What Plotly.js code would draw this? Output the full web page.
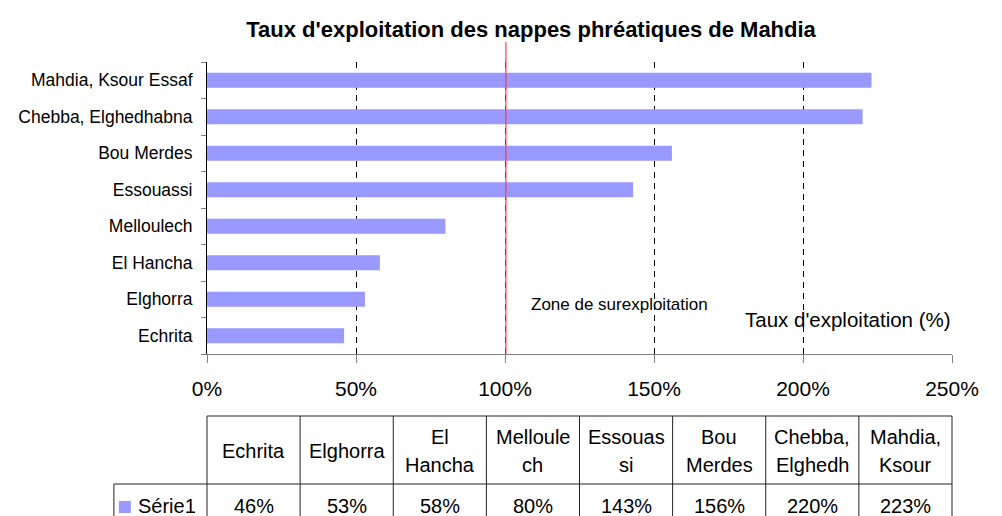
<!DOCTYPE html>
<html>
<head>
<meta charset="utf-8">
<script src="https://cdn.plot.ly/plotly-3.0.1.min.js"></script>
<style>
html,body{margin:0;padding:0;background:#fff;}
#chart{width:1002px;height:516px;}
</style>
</head>
<body>
<div id="chart"></div>
<script>
// ---- Data ----
var categories = ["Echrita", "Elghorra", "El Hancha", "Melloulech", "Essouassi", "Bou Merdes", "Chebba, Elghedhabna", "Mahdia, Ksour Essaf"];
var values = [46, 53, 58, 80, 143, 156, 220, 223];
var tableHeaders = [["Echrita"], ["Elghorra"], ["El", "Hancha"], ["Melloule", "ch"], ["Essouas", "si"], ["Bou", "Merdes"], ["Chebba,", "Elghedh"], ["Mahdia,", "Ksour"]];
var seriesName = "Série1";
var tickVals = [0, 50, 100, 150, 200, 250];
var tickText = ["0%", "50%", "100%", "150%", "200%", "250%"];
var thresholdValue = 100;

// ---- Layout helpers ----
var FONT = "Liberation Sans, Arial, sans-serif";
var barColor = "#9999FF";
var W = 1002, Hh = 516;
var mL = 207, mR = 50, mT = 62, mB = 162;
var plotH = Hh - mT - mB, plotW = W - mL - mR;
var xRange = [0, 250];
function py(p) { return (Hh - mB - p) / plotH; }          // pixel y -> paper y
function px(v) { return (v - xRange[0]) / (xRange[1] - xRange[0]); } // data x -> paper x

var nCol = categories.length;
var colW = (xRange[1] - xRange[0]) / nCol;
var TF = 20; // table font size

var shapes = [];
var annotations = [];

// threshold line
shapes.push({type: "line", xref: "x", yref: "paper", x0: thresholdValue + 0.3, x1: thresholdValue + 0.3, y0: 0, y1: py(42),
  line: {color: "#FF4040", width: 1.2}, layer: "above"});

// table lines
var tLineColor = "#222";
var yHeadTop = py(416), yHeadBot = py(484), yBottom = py(540);
shapes.push({type: "line", xref: "paper", yref: "paper", x0: px(0), x1: px(xRange[1]), y0: yHeadTop, y1: yHeadTop, line: {color: tLineColor, width: 1}});
shapes.push({type: "line", xref: "paper", yref: "paper", x0: px(-colW), x1: px(xRange[1]), y0: yHeadBot, y1: yHeadBot, line: {color: tLineColor, width: 1}});
shapes.push({type: "line", xref: "paper", yref: "paper", x0: px(-colW), x1: px(-colW), y0: yHeadBot, y1: yBottom, line: {color: tLineColor, width: 1}});
for (var i = 0; i <= nCol; i++) {
  var xv = px(i * colW);
  shapes.push({type: "line", xref: "paper", yref: "paper", x0: xv, x1: xv, y0: yHeadTop, y1: yBottom, line: {color: tLineColor, width: 1}});
}
// legend key
shapes.push({type: "rect", xref: "paper", yref: "paper", x0: px(-colW) + 5 / plotW, x1: px(-colW) + 17 / plotW,
  y0: py(513), y1: py(501), fillcolor: barColor, line: {width: 0}});

// table header text
for (var j = 0; j < nCol; j++) {
  var cx = (j + 0.5) * colW;
  var lines = tableHeaders[j];
  if (lines.length === 1) {
    annotations.push({xref: "x", yref: "paper", x: cx, y: py(451), text: lines[0], showarrow: false, xanchor: "center", yanchor: "middle",
      font: {family: FONT, size: TF, color: "#000"}});
  } else {
    annotations.push({xref: "x", yref: "paper", x: cx, y: py(437), text: lines[0], showarrow: false, xanchor: "center", yanchor: "middle",
      font: {family: FONT, size: TF, color: "#000"}});
    annotations.push({xref: "x", yref: "paper", x: cx, y: py(465), text: lines[1], showarrow: false, xanchor: "center", yanchor: "middle",
      font: {family: FONT, size: TF, color: "#000"}});
  }
  annotations.push({xref: "x", yref: "paper", x: cx, y: py(506), text: values[j] + "%", showarrow: false, xanchor: "center", yanchor: "middle",
    font: {family: FONT, size: TF, color: "#000"}});
}
annotations.push({xref: "paper", yref: "paper", x: px(-colW) + 22 / plotW, y: py(506), text: seriesName, showarrow: false, xanchor: "left", yanchor: "middle",
  font: {family: FONT, size: TF, color: "#000"}});

// in-plot labels
annotations.push({xref: "paper", yref: "paper", x: (529 - mL) / plotW, y: py(304), text: "Zone de surexploitation", showarrow: false,
  xanchor: "left", yanchor: "middle", font: {family: FONT, size: 17, color: "#000"}});
annotations.push({xref: "paper", yref: "paper", x: (953 - mL) / plotW, y: py(319), text: "Taux d'exploitation (%)", showarrow: false,
  xanchor: "right", yanchor: "middle", font: {family: FONT, size: 20.5, color: "#000"}});

var trace = {
  type: "bar",
  orientation: "h",
  x: values,
  y: categories,
  marker: {color: barColor, line: {width: 0}},
  hoverinfo: "skip",
  name: seriesName
};

var layout = {
  width: W, height: Hh,
  margin: {l: mL, r: mR, t: mT, b: mB, pad: 0},
  paper_bgcolor: "#fff", plot_bgcolor: "#fff",
  showlegend: false,
  bargap: 0.59,
  title: {text: "<b>Taux d'exploitation des nappes phréatiques de Mahdia</b>", x: 0.53, xanchor: "center", y: 1 - 29 / Hh, yanchor: "middle",
    font: {family: FONT, size: 22, color: "#000"}},
  xaxis: {
    range: xRange, tickvals: tickVals, ticktext: tickText,
    showgrid: true, gridcolor: "#000", gridwidth: 1, griddash: "6px,5px",
    zeroline: false, showline: true, linecolor: "#808080", linewidth: 1,
    ticks: "outside", ticklen: 8, tickcolor: "#808080", tickwidth: 1,
    ticklabelstandoff: 8,
    tickfont: {family: FONT, size: 21, color: "#000"},
    fixedrange: true
  },
  yaxis: {
    type: "category", categoryorder: "array", categoryarray: categories,
    showgrid: false, zeroline: false, showline: true, linecolor: "#000", linewidth: 1,
    ticks: "outside", tickson: "boundaries", ticklen: 5, tickcolor: "#808080", tickwidth: 1,
    ticklabelstandoff: 10,
    tickfont: {family: FONT, size: 17.5, color: "#000"},
    fixedrange: true
  },
  shapes: shapes,
  annotations: annotations
};

Plotly.newPlot("chart", [trace], layout, {displayModeBar: false, staticPlot: true});
</script>
</body>
</html>
